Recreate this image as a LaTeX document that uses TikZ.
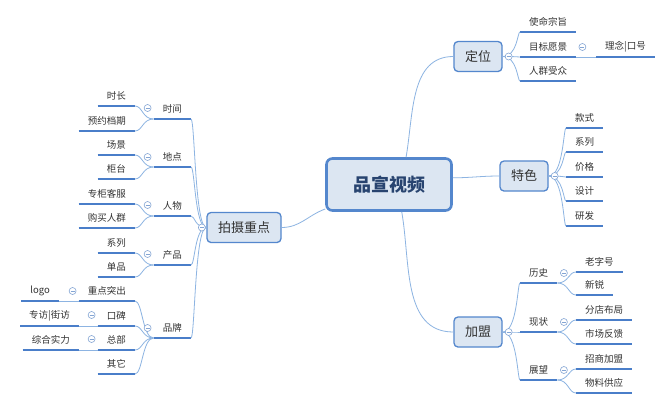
\documentclass[tikz,border=0pt]{standalone}
\usepackage{fontspec}
\newfontfamily\cjk{Noto Sans CJK SC}
\usepackage{tikz}
\usetikzlibrary{calc}

\definecolor{boxfill}{RGB}{220,230,242}
\definecolor{boxline}{RGB}{84,135,205}
\definecolor{ulc}{RGB}{74,126,201}
\definecolor{linkc}{RGB}{141,180,226}
\definecolor{foldc}{RGB}{132,165,212}
\definecolor{txt}{RGB}{51,51,51}
\definecolor{hubtxt}{RGB}{40,68,112}

\tikzset{
  hub/.style={draw=boxline,fill=boxfill,line width=2.6pt,rounded corners=6pt,
    minimum width=125pt,minimum height=52pt,text=hubtxt,
    font=\cjk\bfseries\fontsize{18}{20}\selectfont},
  mainbox/.style={draw=boxline,fill=boxfill,line width=1.3pt,rounded corners=4pt,
    inner xsep=11pt,minimum height=30pt,text=txt,font=\cjk\fontsize{13}{15}\selectfont},
  item/.style={inner xsep=9pt,inner ysep=0pt,minimum height=20pt,text=txt,
    font=\cjk\fontsize{9.5}{11}\selectfont,
    append after command={(\tikzlastnode.south west) edge[ul] (\tikzlastnode.south east)}},
  ul/.style={color=ulc,line width=2pt},
  link/.style={color=linkc,line width=0.8pt},
  br/.style={to path={let \p1=(\tikztostart),\p2=(\tikztotarget) in
    .. controls ({\x1+#1*(\x2-\x1)},\y1) and ({\x1+#1*(\x2-\x1)},\y2) .. (\tikztotarget)}},
  br/.default=0.6,
  fold/.style={circle,draw=foldc,fill=white,line width=0.6pt,minimum size=7pt,inner sep=0pt,
    path picture={\draw[foldc,line width=0.6pt]
      ([xshift=-2pt]path picture bounding box.center) -- ([xshift=2pt]path picture bounding box.center);}},
}

\begin{document}
\begin{tikzpicture}[x=1pt,y=-1pt]
    \useasboundingbox[fill=white] (0,0) rectangle (667,408);

    % centre and main topics
    \node[hub] (c) at (389,184.5) {品宣视频};
    \node[mainbox] (dw) at (478,56.5) {定位};
    \node[mainbox] (ts) at (524,176) {特色};
    \node[mainbox] (jm) at (478,332) {加盟};
    \node[mainbox] (ps) at (244,227.5) {拍摄重点};

    % 定位
    \node[item,anchor=south west] (smzz) at (520,32) {使命宗旨};
    \node[item,anchor=south west] (mbyj) at (520,57) {目标愿景};
    \node[item,anchor=south west] (rqsz) at (520,81) {人群受众};
    \node[item,anchor=south west] (lnkh) at (596,57) {理念|口号};

    % 特色
    \node[item,anchor=south west] (tsks) at (566,128) {款式};
    \node[item,anchor=south west] (tsxl) at (566,152) {系列};
    \node[item,anchor=south west] (tsjg) at (566,177) {价格};
    \node[item,anchor=south west] (tssj) at (566,201) {设计};
    \node[item,anchor=south west] (tsyf) at (566,226) {研发};

    % 加盟
    \node[item,anchor=south west] (ls) at (520,283) {历史};
    \node[item,anchor=south west] (xz) at (520,332) {现状};
    \node[item,anchor=south west] (zw) at (520,380) {展望};
    \node[item,anchor=south west] (lzh) at (576,272) {老字号};
    \node[item,anchor=south west] (xr) at (576,295) {新锐};
    \node[item,anchor=south west] (fdbj) at (576,320) {分店布局};
    \node[item,anchor=south west] (scfk) at (576,344) {市场反馈};
    \node[item,anchor=south west] (zsjm) at (576,369) {招商加盟};
    \node[item,anchor=south west] (wlgy) at (576,393) {物料供应};

    % 拍摄重点
    \node[item,anchor=south east] (sj) at (191,119) {时间};
    \node[item,anchor=south east] (dd) at (191,167) {地点};
    \node[item,anchor=south east] (rw) at (191,216) {人物};
    \node[item,anchor=south east] (cp) at (191,265) {产品};
    \node[item,anchor=south east] (pp) at (191,338) {品牌};
    \node[item,anchor=south east] (sc) at (135,106) {时长};
    \node[item,anchor=south east] (yydq) at (135,131) {预约档期};
    \node[item,anchor=south east] (cj) at (135,155) {场景};
    \node[item,anchor=south east] (gt) at (135,179) {柜台};
    \node[item,anchor=south east] (zgkf) at (135,204) {专柜客服};
    \node[item,anchor=south east] (gmrq) at (135,228) {购买人群};
    \node[item,anchor=south east] (cpxl) at (135,253) {系列};
    \node[item,anchor=south east] (dp) at (135,277) {单品};
    \node[item,anchor=south east] (zdtc) at (135,301) {重点突出};
    \node[item,anchor=south east] (kb) at (135,326) {口碑};
    \node[item,anchor=south east] (zb) at (135,350) {总部};
    \node[item,anchor=south east] (qt) at (135,374) {其它};
    \node[item,anchor=south east] (logo) at (59,301) {logo};
    \node[item,anchor=south east] (zfjf) at (79,326) {专访|街访};
    \node[item,anchor=south east] (zhsl) at (79,350) {综合实力};

    % connectors
    \draw[link] (c.58) to[out=80,in=180] (dw.west)
      (c.6) to[out=0,in=180] (ts.west)
      (c.-65) to[out=-80,in=180] (jm.west)
      (c.201) to[out=200,in=0] (ps.east);
    \path[link]
    (dw.east)
      edge [br=.85] (smzz.south west)
      edge [br=.85] (mbyj.south west)
      edge [br=.85] (rqsz.south west)
    (mbyj.south east) edge [] (lnkh.south west)
    (ts.east)
      edge [br=.85] (tsks.south west)
      edge [br=.85] (tsxl.south west)
      edge [br=.85] (tsjg.south west)
      edge [br=.85] (tssj.south west)
      edge [br=.85] (tsyf.south west)
    (jm.east)
      edge [br=.85] (ls.south west)
      edge [br=.85] (xz.south west)
      edge [br=.85] (zw.south west)
    (ls.south east) edge [br] (lzh.south west) edge [br] (xr.south west)
    (xz.south east) edge [br] (fdbj.south west) edge [br] (scfk.south west)
    (zw.south east) edge [br] (zsjm.south west) edge [br] (wlgy.south west)
    (ps.west)
      edge [br=.75] (sj.south east)
      edge [br=.75] (dd.south east)
      edge [br=.75] (rw.south east)
      edge [br=.75] (cp.south east)
      edge [br=.75] (pp.south east)
    (sj.south west) edge [br] (sc.south east) edge [br] (yydq.south east)
    (dd.south west) edge [br] (cj.south east) edge [br] (gt.south east)
    (rw.south west) edge [br] (zgkf.south east) edge [br] (gmrq.south east)
    (cp.south west) edge [br] (cpxl.south east) edge [br] (dp.south east)
    (pp.south west)
      edge [br] (zdtc.south east)
      edge [br] (kb.south east)
      edge [br] (zb.south east)
      edge [br] (qt.south east)
    (zdtc.south west) edge [] (logo.south east)
    (kb.south west) edge [] (zfjf.south east)
    (zb.south west) edge [] (zhsl.south east)
    ;

    % collapse markers
    \node[fold] (fdw) at ([xshift=6pt]dw.east) {};
    \node[fold] (fts) at ([xshift=6pt]ts.east) {};
    \node[fold] (fjm) at ([xshift=6pt]jm.east) {};
    \node[fold] (fps) at ([xshift=-4.5pt]ps.west) {};
    \node[fold] (fmbyj) at ([xshift=6pt,yshift=10pt]mbyj.south east) {};
    \node[fold] (fls) at ([xshift=6.5pt,yshift=10pt]ls.south east) {};
    \node[fold] (fxz) at ([xshift=6.5pt,yshift=10pt]xz.south east) {};
    \node[fold] (fzw) at ([xshift=6.5pt,yshift=10pt]zw.south east) {};
    \node[fold] (fsj) at ([xshift=-6pt,yshift=11pt]sj.south west) {};
    \node[fold] (fdd) at ([xshift=-6pt,yshift=10pt]dd.south west) {};
    \node[fold] (frw) at ([xshift=-6pt,yshift=11pt]rw.south west) {};
    \node[fold] (fcp) at ([xshift=-6pt,yshift=11pt]cp.south west) {};
    \node[fold] (fpp) at ([xshift=-6pt,yshift=10pt]pp.south west) {};
    \node[fold] (fzdtc) at ([xshift=-6pt,yshift=10pt]zdtc.south west) {};
    \node[fold] (fkb) at ([xshift=-6pt,yshift=11pt]kb.south west) {};
    \node[fold] (fzb) at ([xshift=-6pt,yshift=11pt]zb.south west) {};
\end{tikzpicture}
\end{document}
